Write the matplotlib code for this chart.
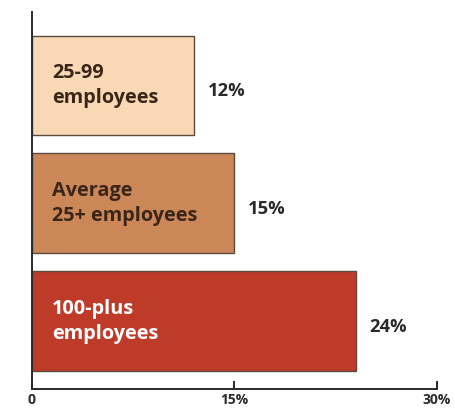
import matplotlib
matplotlib.use("Agg")
import matplotlib.pyplot as plt

categories = ["25-99\nemployees", "Average\n25+ employees", "100-plus\nemployees"]
values = [12, 15, 24]
value_labels = ["12%", "15%", "24%"]
tick_values = [0, 15, 30]
tick_labels = ["0", "15%", "30%"]

colors = ["#F9D9B5", "#CC8759", "#BE3B2A"]
text_colors = ["#3A2618", "#3A2618", "#FFFFFF"]

fig = plt.figure(figsize=(4.55, 4.12), dpi=100)
ax = fig.add_axes([32/455, 1-389/412, (437-32)/455, (389-12)/412])

ypos = list(range(len(values)))
ax.barh(ypos, values, height=0.847, color=colors, edgecolor="#5a4a40", linewidth=1.0)

for y, v, lab, c, tc, vl in zip(ypos, values, categories, colors, text_colors, value_labels):
    ax.text(1.5, y + 0.0, lab, ha="left", va="center", fontsize=14.3, fontweight="bold",
            color=tc, family="Open Sans", linespacing=1.33)
    ax.text(v + 1.0, y + 0.05, vl, ha="left", va="center", fontsize=13.2, fontweight="bold",
            color="#2a2a2a", family="Open Sans")

ax.set_xlim(0, 30)
ax.set_ylim(2.576, -0.623)
ax.set_xticks(tick_values)
ax.set_xticklabels(tick_labels, fontsize=10, fontweight="bold", family="Open Sans", color="#2a2a2a")
ax.set_yticks([])
for s in ["top", "right"]:
    ax.spines[s].set_visible(False)
ax.spines["left"].set_color("#2a2a2a")
ax.spines["bottom"].set_color("#2a2a2a")
ax.spines["left"].set_linewidth(1.4)
ax.spines["bottom"].set_linewidth(1.4)
ax.tick_params(axis="x", direction="in", length=6, width=1.4, color="#2a2a2a", pad=3)

fig.savefig("out.png", dpi=100)
